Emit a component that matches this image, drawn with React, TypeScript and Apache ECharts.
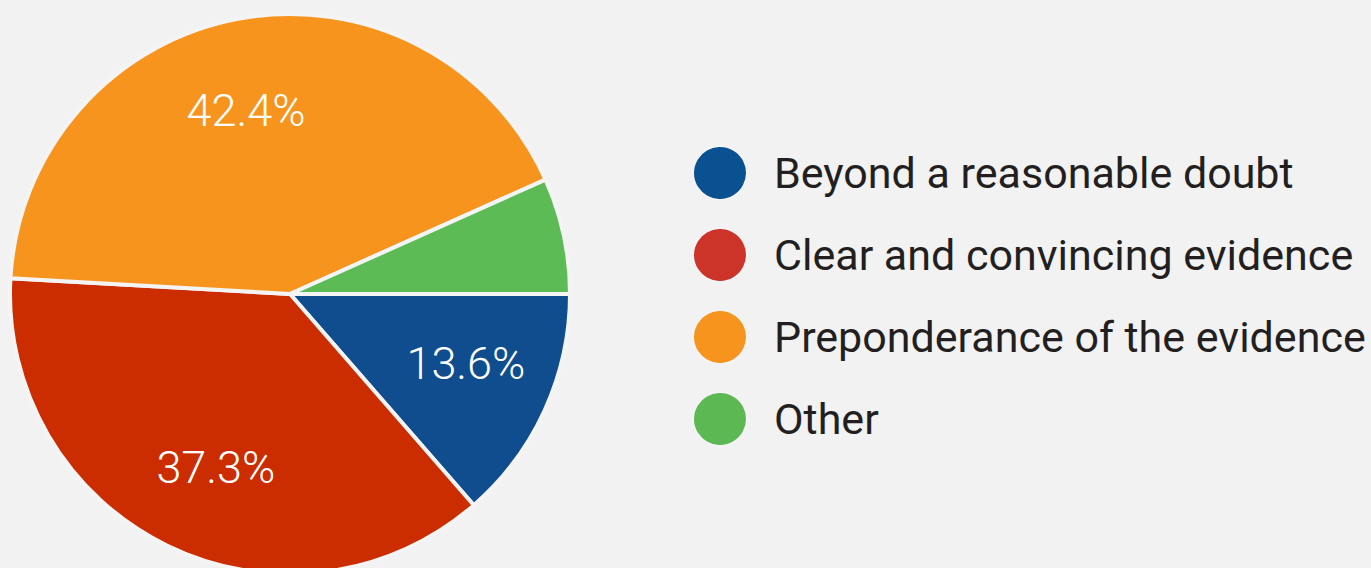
import React, { useEffect, useRef } from "react";
import * as echarts from "echarts";

const categories = [
  "Beyond a reasonable doubt",
  "Clear and convincing evidence",
  "Preponderance of the evidence",
  "Other",
];
const values = [13.6, 37.3, 42.4, 6.7];
const sliceColors = ["#0f4d8e", "#cb2d00", "#f7941e", "#5cbb54"];
const legendColors = ["#0a5191", "#cc3329", "#f7941e", "#5cb852"];

export default function App() {
  const ref = useRef<HTMLDivElement>(null);
  useEffect(() => {
    document.body.style.margin = "0";
    const chart = echarts.init(ref.current!, null, { renderer: "svg" });
    const pieData = categories.map((name, i) => ({
      name,
      value: values[i],
      itemStyle: { color: sliceColors[i] },
    }));
    chart.setOption({
      animation: false,
      backgroundColor: "#f2f2f2",
      legend: {
        orient: "vertical",
        left: 687,
        top: 140,
        icon: "circle",
        itemWidth: 54,
        itemHeight: 54,
        itemGap: 26,
        selectedMode: false,
        data: categories.map((name, i) => ({
          name,
          itemStyle: { color: legendColors[i] },
        })),
        textStyle: {
          fontFamily: "Roboto",
          fontSize: 43,
          color: "#231f20",
          padding: [0, 0, 0, 22],
        },
      },
      series: [
        {
          type: "pie",
          center: [290, 294],
          radius: 280,
          startAngle: 0,
          clockwise: true,
          silent: true,
          label: { show: false },
          labelLine: { show: false },
          itemStyle: { borderColor: "#f4f4f4", borderWidth: 4 },
          data: pieData,
        },
        {
          type: "pie",
          center: [290, 294],
          radius: [92, 280],
          startAngle: 3,
          clockwise: true,
          silent: true,
          legendHoverLink: false,
          itemStyle: { color: "transparent", borderWidth: 0 },
          label: {
            show: true,
            position: "inside",
            formatter: (p: any) => p.value.toFixed(1) + "%",
            fontFamily: "Roboto",
            fontWeight: 300,
            fontSize: 45,
            color: "#ffffff",
          },
          labelLine: { show: false },
          data: categories.map((name, i) => ({
            name: name + " ",
            value: values[i],
            label: { show: i !== 3 },
          })),
        },
      ],
    });
    return () => chart.dispose();
  }, []);
  return (
    <div
      ref={ref}
      style={{ position: "absolute", left: 0, top: 0, width: 1371, height: 568 }}
    />
  );
}
